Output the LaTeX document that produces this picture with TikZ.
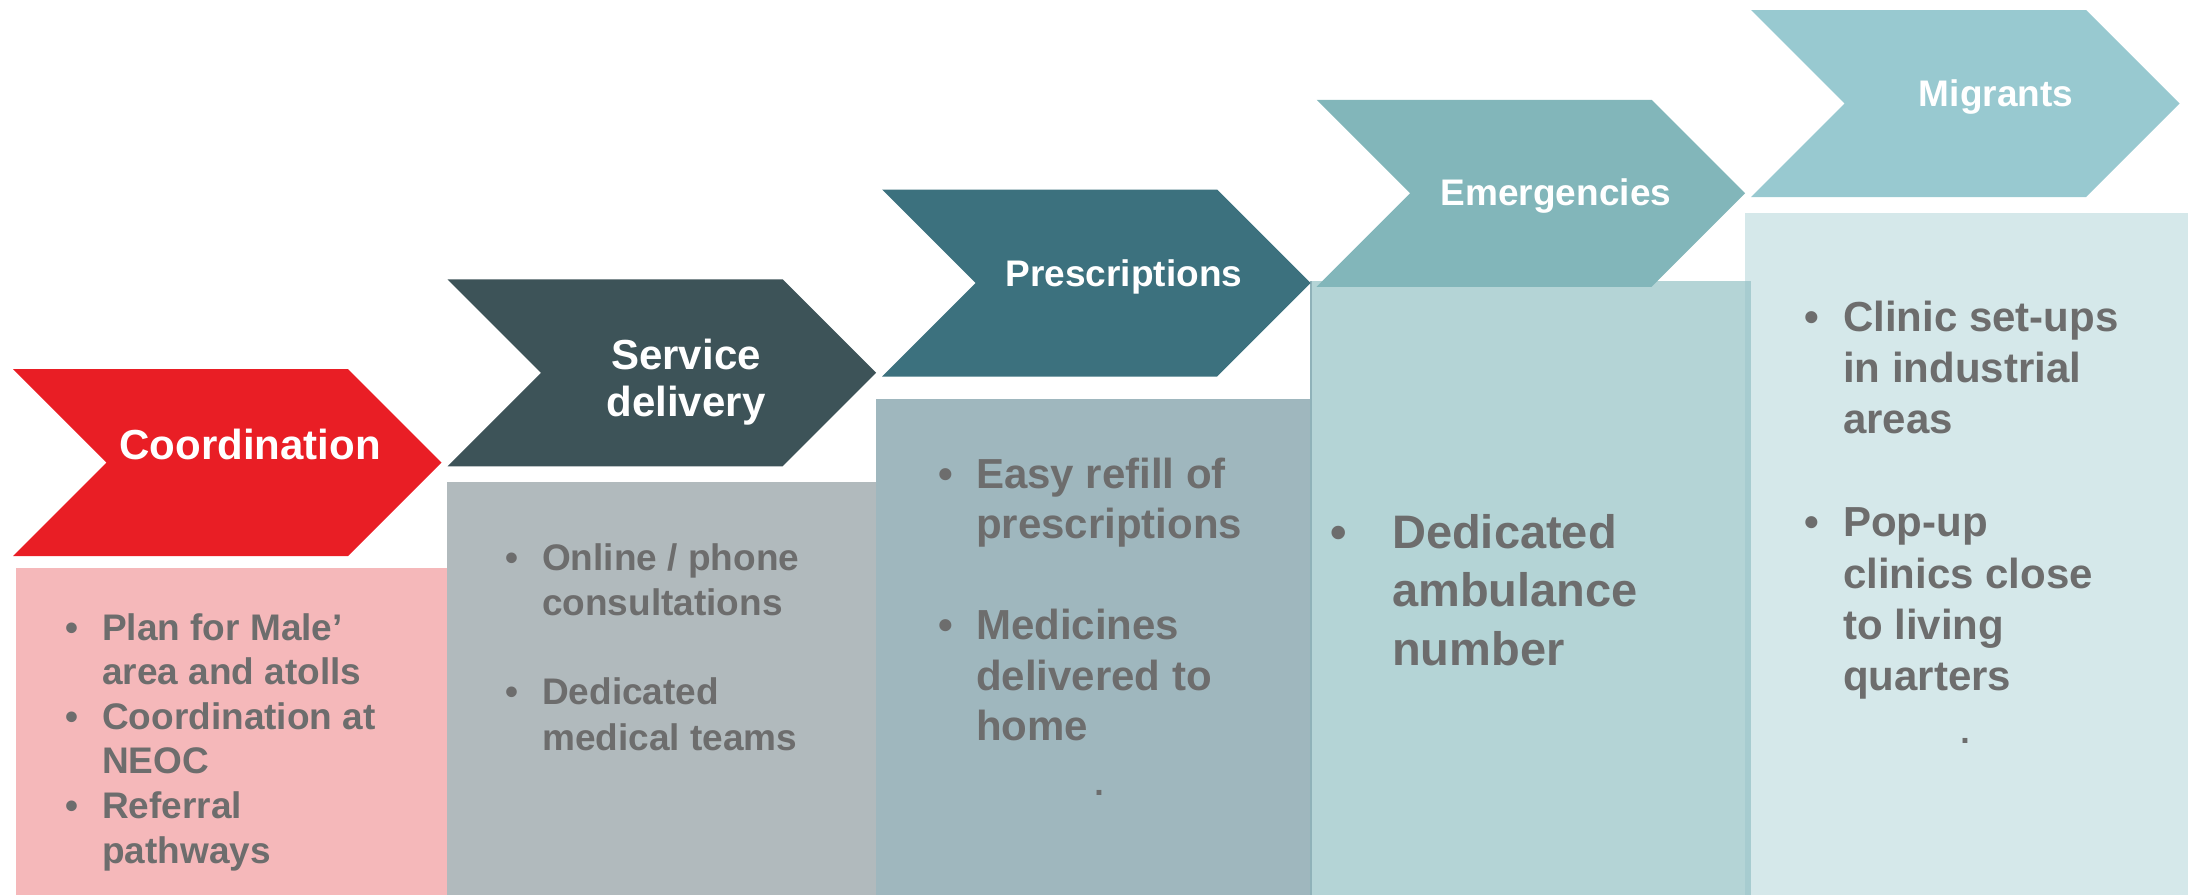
\documentclass[tikz,border=0pt]{standalone}
\usepackage{fontspec}
\setmainfont{Liberation Sans}
\definecolor{cRed}{HTML}{E91E25}
\definecolor{cPink}{HTML}{F5B8BA}
\definecolor{cSlate}{HTML}{3D5358}
\definecolor{cGrey}{HTML}{B1BABD}
\definecolor{cTeal}{HTML}{3C717E}
\definecolor{cTealBox}{HTML}{9FB7BE}
\definecolor{cAqua}{HTML}{82B6BA}
\definecolor{cAquaBox}{HTML}{B4D4D6}
\definecolor{cSky}{HTML}{98C9D0}
\definecolor{cSkyBox}{HTML}{D5E8EA}
\definecolor{cStrip}{HTML}{A7CCD0}
\definecolor{cEdge}{HTML}{8FB2B9}
\definecolor{bodygrey}{HTML}{6D6D6D}
\newcommand\fsz[2]{\fontsize{#1}{#2}\selectfont}
\newcommand\bitem[2]{\par\hangindent=#1\hangafter=1\noindent\makebox[#1][l]{•}#2}
\newcommand\bgap[1]{\par\vspace{#1}}
\newcommand\drawchev[3]{\fill[#3] (#1,#2) -- ++(335,0) -- ++(93.5,93.5) -- ++(-93.5,93.5) -- ++(-335,0) -- ++(93.5,-93.5) -- cycle;}
\tikzset{
  head/.style={text=white, font=\bfseries, inner sep=0pt, anchor=base},
  body/.style={text=bodygrey, font=\bfseries, inner sep=0pt, anchor=base west},
  dotlbl/.style={text=bodygrey, font=\bfseries\fsz{34}{40}, inner sep=0pt, anchor=base},
}
\begin{document}
\begin{tikzpicture}[x=1pt,y=-1pt]
\useasboundingbox (0,0) rectangle (2188,895);
% boxes
\fill[cPink] (16,568) rectangle (447,895);
\fill[cGrey] (447,482) rectangle (876,895);
\fill[cTealBox] (876,399) rectangle (1311,895);
\fill[cSkyBox] (1745,213) rectangle (2188,895);
\fill[cAquaBox] (1310,281) rectangle (1751,895);
\fill[cStrip] (1745,281) rectangle (1751,895);
\draw[cEdge, line width=1.5pt] (1310.75,281) -- (1310.75,895);
% chevrons
\drawchev{13}{369}{cRed}
\drawchev{447.5}{279.25}{cSlate}
\drawchev{882}{189.5}{cTeal}
\drawchev{1316.5}{99.75}{cAqua}
\drawchev{1751}{10}{cSky}
% headers
\node[head] (h1) at (250,459) {\fsz{42}{48}Coordination};
\node[head] (h2) at (686,369) {\parbox[t]{300pt}{\centering\fsz{42}{47}Service\\delivery}};
\node[head] (h3) at (1124,286) {\fsz{37}{44}Prescriptions};
\node[head] (h4) at (1556,205) {\fsz{37}{44}Emergencies};
\node[head] (h5) at (1996,106) {\fsz{37}{44}Migrants};
% bodies
\node[body] (b1) at (65.5,640) {\parbox[t]{380pt}{\fsz{37}{44.6}%
\bitem{36.5pt}{Plan for Male’\\area and atolls}%
\bitem{36.5pt}{Coordination at\\NEOC}%
\bitem{36.5pt}{Referral\\pathways}}};
\node[body] (b2) at (505.5,570) {\parbox[t]{380pt}{\fsz{37}{45.5}%
\bitem{36.5pt}{Online / phone\\consultations}%
\bgap{43.5pt}%
\bitem{36.5pt}{Dedicated\\medical teams}}};
\node[body] (b3) at (938.6,488) {\parbox[t]{380pt}{\fsz{42}{50.5}%
\bitem{37.4pt}{Easy refill of\\prescriptions}%
\bgap{50.5pt}%
\bitem{37.4pt}{Medicines\\delivered to\\home}}};
\node[body] (b4) at (1330,548) {\parbox[t]{400pt}{\fsz{47}{58.5}%
\bitem{62pt}{Dedicated\\ambulance\\number}}};
\node[body] (b5) at (1804.6,331) {\parbox[t]{380pt}{\fsz{42}{51.4}%
\bitem{38.4pt}{Clinic set-ups\\in industrial\\areas}%
\bgap{51.4pt}%
\bitem{38.4pt}{Pop-up\\clinics close\\to living\\quarters}}};
\node[dotlbl] (d3) at (1099,795) {.};
\node[dotlbl] (d5) at (1965,743) {.};
\end{tikzpicture}
\end{document}
